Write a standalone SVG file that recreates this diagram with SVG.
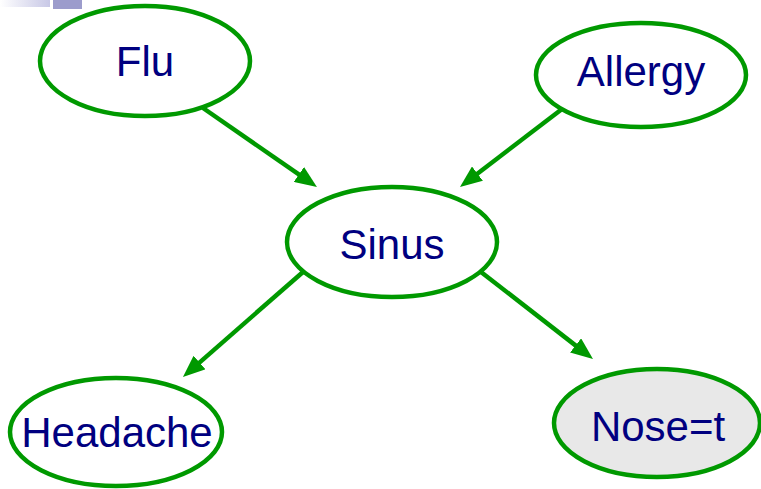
<svg xmlns="http://www.w3.org/2000/svg" width="761" height="489" viewBox="0 0 761 489">
<style>
.node ellipse{fill:#ffffff;stroke:#009900;stroke-width:4.5}
.node.obs ellipse{fill:#e8e8e8}
.node text{font-family:"Liberation Sans",Arial,sans-serif;font-size:42px;fill:#000080;text-anchor:middle}
#edges line{stroke:#009900;stroke-width:4.5}
</style>
<defs>
<linearGradient id="bar" x1="0" y1="0" x2="1" y2="0">
<stop offset="0" stop-color="#ffffff"/>
<stop offset="1" stop-color="#c8c8e6"/>
</linearGradient>
<marker id="ah" viewBox="0 0 22 18" markerUnits="userSpaceOnUse" markerWidth="22" markerHeight="18" refX="10" refY="9" orient="auto">
<path d="M0,0 L22,9 L0,18 Z" fill="#009900"/>
</marker>
</defs>
<rect x="0" y="0" width="50" height="7" fill="url(#bar)"/>
<rect x="53" y="0" width="29" height="9" fill="#9c9ccc"/>
<g id="edges">
<line x1="203" y1="108" x2="307.1" y2="180.2" marker-end="url(#ah)"/>
<line x1="562" y1="109" x2="469.5" y2="179.7" marker-end="url(#ah)"/>
<line x1="303" y1="272" x2="192.0" y2="369.1" marker-end="url(#ah)"/>
<line x1="481" y1="272" x2="583.5" y2="351.6" marker-end="url(#ah)"/>
</g>
<g id="flu" class="node">
<ellipse cx="145" cy="61" rx="105" ry="55"/>
<text x="145" y="76">Flu</text>
</g>
<g id="allergy" class="node">
<ellipse cx="641" cy="75" rx="105" ry="52"/>
<text x="641" y="86">Allergy</text>
</g>
<g id="sinus" class="node">
<ellipse cx="392" cy="242" rx="105" ry="55"/>
<text x="392" y="259">Sinus</text>
</g>
<g id="headache" class="node">
<ellipse cx="116" cy="432" rx="106" ry="54"/>
<text x="117" y="447">Headache</text>
</g>
<g id="nose" class="node obs">
<ellipse cx="657" cy="423" rx="103" ry="54"/>
<text x="658" y="441">Nose=t</text>
</g>
</svg>
